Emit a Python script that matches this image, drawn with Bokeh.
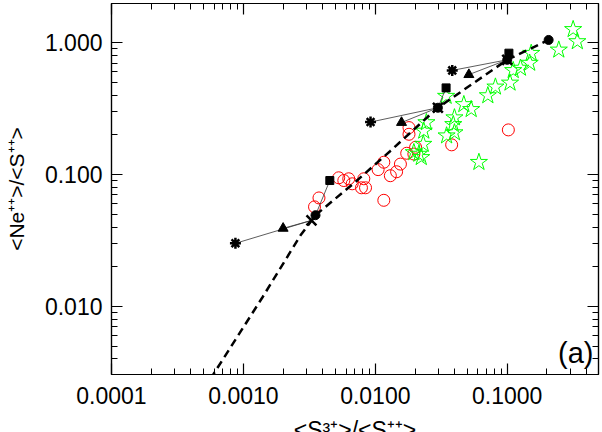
import math
from bokeh.plotting import figure
from bokeh.models import FixedTicker, PrintfTickFormatter, LogAxis, Label, Range1d
from bokeh.embed import file_html
from bokeh.resources import INLINE

# ---- data ----
red_x = [0.0180, 0.0180, 0.102, 0.0379, 0.0202, 0.0196, 0.0173, 0.0155, 0.0116, 0.0105, 0.0145,
         0.0130, 0.00528, 0.00577, 0.00629, 0.00668, 0.00818, 0.00785, 0.00843, 0.0116, 0.00374, 0.00346]
red_y = [0.227, 0.202, 0.218, 0.168, 0.161, 0.143, 0.145, 0.120, 0.124, 0.109, 0.105,
         0.098, 0.0945, 0.0901, 0.0929, 0.0851, 0.0929, 0.0794, 0.0794, 0.0638, 0.0665, 0.0569]

star_x = [0.316, 0.340, 0.246, 0.152, 0.148, 0.126, 0.111, 0.105, 0.0814, 0.0713, 0.0344, 0.0469,
          0.0533, 0.0398, 0.0244, 0.0390, 0.0233, 0.0398, 0.0347, 0.0231, 0.0196, 0.0214, 0.0223, 0.0610]
star_y = [1.26, 1.02, 0.881, 0.832, 0.700, 0.642, 0.616, 0.495, 0.462, 0.397, 0.393, 0.340,
          0.312, 0.270, 0.248, 0.240, 0.214, 0.208, 0.197, 0.170, 0.147, 0.143, 0.135, 0.124]

seq_x = [0.0005, 0.000593, 0.00140, 0.00271, 0.00352, 0.00708, 0.0130, 0.0298, 0.100, 0.206]
seq_y = [0.00232, 0.00307, 0.0118, 0.0346, 0.0492, 0.0881, 0.151, 0.321, 0.741, 1.048]

circ_x = [0.00352, 0.0298, 0.100, 0.206]
circ_y = [0.0492, 0.321, 0.741, 1.048]

cross_x = [0.00328, 0.0298, 0.100]
cross_y = [0.0449, 0.321, 0.741]

ast_x = [0.00087, 0.0092, 0.0383]
ast_y = [0.0301, 0.250, 0.616]

tri_x = [0.0020, 0.0158, 0.0512]
tri_y = [0.0391, 0.248, 0.572]

sq_x = [0.00452, 0.0344, 0.103]
sq_y = [0.0901, 0.454, 0.832]

x_ticks = [1e-4, 1e-3, 1e-2, 1e-1]
y_ticks = [1e-2, 1e-1, 1e0]
x_minor = [m * d for d in [1e-4, 1e-3, 1e-2, 1e-1] for m in range(2, 10)]
y_minor = [m * d for d in [1e-3, 1e-2, 1e-1, 1e0] for m in range(2, 10)]

x_lo, x_hi = 1e-4, 0.492
y_lo, y_hi = 0.00305, 1.98

FONT = "Liberation Sans"

p = figure(width=602, height=432, x_axis_type="log", y_axis_type="log",
           x_range=Range1d(x_lo, x_hi), y_range=Range1d(y_lo, y_hi),
           output_backend="svg", toolbar_location=None,
           min_border_left=111, min_border_right=4, min_border_top=3, min_border_bottom=55)
p.grid.visible = False
p.outline_line_color = "black"
p.outline_line_width = 1.2
p.background_fill_color = "white"
p.border_fill_color = "white"


def style_axis(ax, ticks, minor, fmt, show_labels, standoff):
    ax.ticker = FixedTicker(ticks=ticks, minor_ticks=minor)
    ax.formatter = PrintfTickFormatter(format=fmt)
    ax.major_tick_in = 11
    ax.major_tick_out = 0
    ax.minor_tick_in = 6
    ax.minor_tick_out = 0
    ax.axis_line_color = "black"
    ax.axis_line_width = 1.2
    ax.major_tick_line_color = "black"
    ax.major_tick_line_width = 1.2
    ax.minor_tick_line_color = "black"
    ax.minor_tick_line_width = 1.0
    ax.major_label_text_font = FONT
    if show_labels:
        ax.major_label_text_color = "black"
        ax.major_label_text_font_size = "23px"
        ax.major_label_standoff = standoff
    else:
        ax.major_label_text_color = None
        ax.major_label_text_font_size = "1px"
        ax.major_label_standoff = 0


style_axis(p.xaxis[0], x_ticks, x_minor, "%.4f", True, 12)
style_axis(p.yaxis[0], y_ticks, y_minor, "%.3f", True, 9)
top_ax = LogAxis()
right_ax = LogAxis()
style_axis(top_ax, x_ticks, x_minor, "%.4f", False, 0)
style_axis(right_ax, y_ticks, y_minor, "%.3f", False, 0)
p.add_layout(top_ax, "above")
p.add_layout(right_ax, "right")

# y axis title
p.yaxis[0].axis_label = "<Ne⁺⁺>/<S⁺⁺>"
p.yaxis[0].axis_label_text_font = FONT
p.yaxis[0].axis_label_text_font_size = "21px"
p.yaxis[0].axis_label_text_font_style = "normal"
p.yaxis[0].axis_label_text_color = "black"
p.yaxis[0].axis_label_standoff = 14

# observations
p.scatter(red_x, red_y, marker="circle", size=12, fill_color=None, line_color="red", line_width=1)
p.scatter(star_x, star_y, marker="star", size=18, fill_color=None, line_color="#00ff00", line_width=1)

# model sequence (dashed)
p.line(seq_x, seq_y, line_dash="8 5", line_width=2.5, color="black")

# thin model lines to the sequence points
xs, ys = [], []
for i in range(3):
    xs.append([ast_x[i], cross_x[i]]); ys.append([ast_y[i], cross_y[i]])
    xs.append([tri_x[i], cross_x[i]]); ys.append([tri_y[i], cross_y[i]])
    xs.append([sq_x[i], circ_x[i]]); ys.append([sq_y[i], circ_y[i]])
p.multi_line(xs, ys, line_color="#333333", line_width=0.8)

p.scatter(circ_x, circ_y, marker="circle", size=9, color="black")
p.scatter(sq_x, sq_y, marker="square", size=8, color="black")
p.scatter(tri_x, tri_y, marker="triangle", size=10, color="black")
p.scatter(ast_x, ast_y, marker="asterisk", size=11, line_color="black", line_width=2.5)
p.scatter(cross_x, cross_y, marker="x", size=14, line_color="black", line_width=2.5)

# x axis title (cut by the bottom edge, as in the original), placed in the bottom panel
x_mid = 10 ** ((math.log10(x_lo) + math.log10(x_hi)) / 2)
p.add_layout(Label(x=x_mid, y=y_lo, y_offset=-55, text="<S³⁺>/<S⁺⁺>",
                   text_align="center", text_baseline="alphabetic",
                   text_font=FONT, text_font_size="23px", text_color="black"), "below")
p.add_layout(Label(x=x_hi, y=y_lo, x_offset=-5, y_offset=22, text="(a)",
                   text_align="right", text_baseline="alphabetic",
                   text_font=FONT, text_font_size="29px", text_color="black"))

open("out.html", "w").write(file_html(p, INLINE))
